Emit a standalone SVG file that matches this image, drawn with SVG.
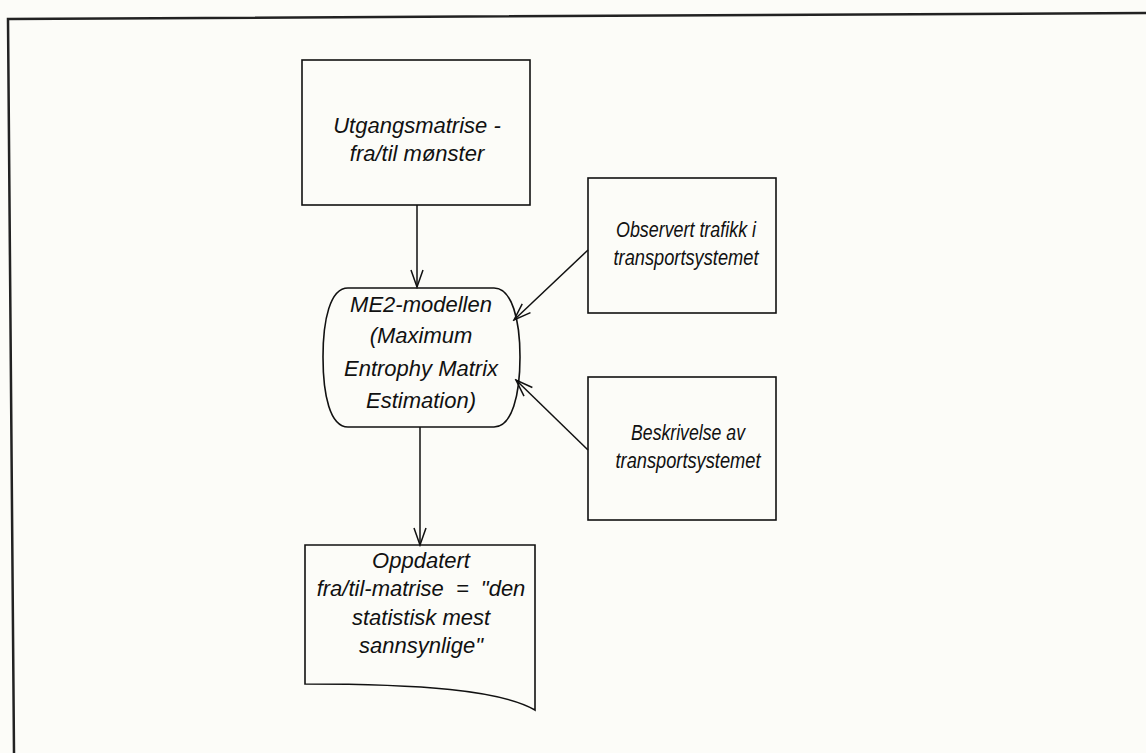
<svg xmlns="http://www.w3.org/2000/svg" width="1146" height="753" viewBox="0 0 1146 753">
  <defs>
    <marker id="arr" viewBox="0 0 20 20" refX="18" refY="10" markerWidth="20" markerHeight="20" markerUnits="userSpaceOnUse" orient="auto">
      <path d="M1,4 L18,10 L1,16" fill="none" stroke="#111" stroke-width="1.5"/>
    </marker>
  </defs>
  <style>
    .shape { fill: none; stroke: #111; stroke-width: 1.6; }
    .conn { fill: none; stroke: #111; stroke-width: 1.5; }
    .frame { fill: none; stroke: #222; stroke-width: 2.5; }
    text { font-family: "Liberation Sans", Arial, sans-serif; font-style: italic; font-size: 22px; fill: #111; text-anchor: middle; }
  </style>
  <rect width="1146" height="753" fill="#fcfcf8"/>
  <path class="frame" d="M1146,13 L8,19 L14,753"/>

  <g id="node-utgangsmatrise">
    <rect class="shape" x="302" y="60" width="228" height="145"/>
    <text x="417" y="133">Utgangsmatrise -</text>
    <text x="417" y="161">fra/til mønster</text>
  </g>

  <g id="node-me2">
    <path class="shape" d="M348,288 H494 C512,288 520,320 520,357 C520,395 512,427 494,427 H348 C330,427 323,395 323,357 C323,320 330,288 348,288 Z"/>
    <text x="421" y="312">ME2-modellen</text>
    <text x="421" y="343">(Maximum</text>
    <text x="421" y="376">Entrophy Matrix</text>
    <text x="421" y="408">Estimation)</text>
  </g>

  <g id="node-observert">
    <rect class="shape" x="588" y="178" width="188" height="135"/>
    <text x="686" y="237" textLength="140" lengthAdjust="spacingAndGlyphs">Observert trafikk i</text>
    <text x="686" y="265" textLength="145" lengthAdjust="spacingAndGlyphs">transportsystemet</text>
  </g>

  <g id="node-beskrivelse">
    <rect class="shape" x="588" y="377" width="188" height="143"/>
    <text x="688" y="440" textLength="114" lengthAdjust="spacingAndGlyphs">Beskrivelse av</text>
    <text x="688" y="468" textLength="145" lengthAdjust="spacingAndGlyphs">transportsystemet</text>
  </g>

  <g id="node-oppdatert">
    <path class="shape" d="M305,545 H535 V710 C500,690 420,684 305,684 Z"/>
    <text x="421" y="568">Oppdatert</text>
    <text x="421" y="596" word-spacing="6">fra/til-matrise = "den</text>
    <text x="421" y="625">statistisk mest</text>
    <text x="421" y="653">sannsynlige"</text>
  </g>

  <g id="connectors">
    <line class="conn" x1="417" y1="205" x2="417" y2="287" marker-end="url(#arr)"/>
    <line class="conn" x1="588" y1="250" x2="514" y2="320" marker-end="url(#arr)"/>
    <line class="conn" x1="588" y1="450" x2="516" y2="380" marker-end="url(#arr)"/>
    <line class="conn" x1="420" y1="427" x2="420" y2="545" marker-end="url(#arr)"/>
  </g>
</svg>
